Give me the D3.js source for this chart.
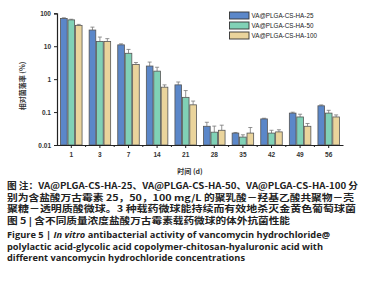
<!DOCTYPE html>
<html><head><meta charset="utf-8">
<script src="https://cdn.jsdelivr.net/npm/d3@7"></script>
<style>body{margin:0;background:#fff}svg{display:block}</style>
</head><body>
<script>
const categories = ["1","3","7","14","21","28","35","42","49","56"];
const seriesNames = ["VA@PLGA-CS-HA-25","VA@PLGA-CS-HA-50","VA@PLGA-CS-HA-100"];
const ha25 = [70, 31, 11, 2.5, 0.67, 0.037, 0.023, 0.062, 0.093, 0.155];
const ha50 = [63, 14, 6.1, 1.75, 0.28, 0.0245, 0.0174, 0.023, 0.071, 0.093];
const ha100 = [43, 14, 2.8, 0.57, 0.166, 0.028, 0.023, 0.025, 0.037, 0.071];
const err25 = [3, 7, 0.8, 0.8, 0.15, 0.012, 0.001, 0.003, 0.006, 0.01];
const err50 = [3, 5, 1.9, 0.55, 0.17, 0.013, 0.003, 0.005, 0.015, 0.02];
const err100 = [3, 3, 0.4, 0.1, 0.05, 0.012, 0.011, 0.004, 0.008, 0.011];
const yTicks = [0.01, 0.1, 1, 10, 100];
const colors = ["#5b87c9", "#80d1b6", "#ead49c"];

const W = 383, H = 300;
const svg = d3.select("body").append("svg").attr("width", W).attr("height", H);
const x = d3.scaleBand().domain(categories).range([57, 343]).paddingInner(0.22).paddingOuter(0.11);
const x1 = d3.scaleBand().domain(d3.range(3)).range([0, x.bandwidth()]).padding(0);
const y = d3.scaleLog().domain([0.01, 100]).range([145, 13.3]);
const series = [ha25, ha50, ha100];
const errs = [err25, err50, err100];

const g = svg.append("g");
series.forEach((vals, si) => {
  categories.forEach((c, ci) => {
    const bx = x(c) + x1(si);
    const bw = x1.bandwidth();
    const top = y(vals[ci]);
    const et = y(vals[ci] + errs[si][ci]);
    const cx = bx + bw / 2;
    g.append("line").attr("x1", cx).attr("x2", cx).attr("y1", top).attr("y2", et)
      .attr("stroke", "#777").attr("stroke-width", 0.8);
    g.append("line").attr("x1", cx - 2).attr("x2", cx + 2).attr("y1", et).attr("y2", et)
      .attr("stroke", "#777").attr("stroke-width", 0.8);
    g.append("rect").attr("x", bx + 0.4).attr("y", top).attr("width", bw - 0.8).attr("height", 145 - top)
      .attr("fill", colors[si]).attr("stroke", "#555").attr("stroke-width", 0.8);
  });
});

// axes
const yAxis = d3.axisLeft(y).tickValues(yTicks).tickFormat(d => String(d)).tickSize(3);
const ya = svg.append("g").attr("transform", "translate(57,0)").call(yAxis);
ya.select(".domain").attr("stroke", "#222").attr("stroke-width", 1.2);
ya.selectAll(".tick line").attr("stroke", "#222");
ya.selectAll("text").attr("font-family", "Liberation Sans, Arial, sans-serif").attr("font-size", 6.5)
  .attr("font-weight", "bold").attr("fill", "#333");

const xAxis = d3.axisBottom(x).tickSize(3).tickSizeOuter(0);
const xa = svg.append("g").attr("transform", "translate(0,145)").call(xAxis);
xa.select(".domain").attr("stroke", "#222").attr("stroke-width", 1.2);
xa.selectAll(".tick line").attr("stroke", "#222");
xa.selectAll("text").attr("font-family", "Liberation Sans, Arial, sans-serif").attr("font-size", 6.5)
  .attr("font-weight", "bold").attr("fill", "#333").attr("dy", "0.9em");
const bounds = categories.slice(1).map(c => x(c) - x.step() * x.paddingInner() / 2);
xa.selectAll(".mtick").data(bounds).enter().append("line")
  .attr("x1", d => d).attr("x2", d => d).attr("y1", 0).attr("y2", 2).attr("stroke", "#222");

// axis titles
svg.append("text").attr("transform", "translate(25,86) rotate(-90)").attr("text-anchor", "middle")
  .attr("font-family", "Noto Sans CJK SC, sans-serif").attr("font-size", 7).attr("font-weight", "bold")
  .attr("fill", "#333").text("相对菌落率 (%)");
svg.append("text").attr("x", 190).attr("y", 174).attr("text-anchor", "middle")
  .attr("font-family", "Noto Sans CJK SC, sans-serif").attr("font-size", 7).attr("font-weight", "bold")
  .attr("fill", "#333").text("时间 (d)");

// legend
const lg = svg.append("g");
seriesNames.forEach((n, i) => {
  const yy = 15.5 + i * 10;
  lg.append("rect").attr("x", 229.5).attr("y", yy - 3.5).attr("width", 19.5).attr("height", 7)
    .attr("fill", colors[i]).attr("stroke", "#333").attr("stroke-width", 0.9);
  lg.append("text").attr("x", 251.5).attr("y", yy + 2.3).attr("font-family", "Liberation Sans, Arial, sans-serif")
    .attr("font-size", 6.3).attr("fill", "#222").text(n);
});

// caption
const cap = [
  {t: "图  注：VA@PLGA-CS-HA-25、VA@PLGA-CS-HA-50、VA@PLGA-CS-HA-100 分", y: 188.5, w: 351},
  {t: "别为含盐酸万古霉素 25，50，100 mg/L 的聚乳酸－羟基乙酸共聚物－壳", y: 200.5, w: 347},
  {t: "聚糖－透明质酸微球。3 种载药微球能持续而有效地杀灭金黄色葡萄球菌", y: 212, w: 349},
  {t: "图 5  | 含不同质量浓度盐酸万古霉素载药微球的体外抗菌性能", y: 224, w: 283}
];
cap.forEach(c => {
  svg.append("text").attr("x", 7).attr("y", c.y).attr("font-family", "Noto Sans CJK SC, sans-serif")
    .attr("font-size", 8.8).attr("font-weight", "bold").attr("fill", "#222")
    .attr("textLength", c.w).attr("lengthAdjust", "spacingAndGlyphs").text(c.t);
});
const en = svg.append("text").attr("x", 7).attr("y", 238).attr("font-family", "Open Sans, sans-serif")
  .attr("font-size", 8.4).attr("font-weight", "bold").attr("fill", "#222")
  .attr("textLength", 323).attr("lengthAdjust", "spacingAndGlyphs");
en.append("tspan").text("Figure 5  |  ");
en.append("tspan").attr("font-style", "italic").text("In vitro");
en.append("tspan").text(" antibacterial activity of vancomycin hydrochloride@");
svg.append("text").attr("x", 7).attr("y", 249.5).attr("font-family", "Open Sans, sans-serif")
  .attr("font-size", 8.4).attr("font-weight", "bold").attr("fill", "#222")
  .attr("textLength", 316).attr("lengthAdjust", "spacingAndGlyphs")
  .text("polylactic acid-glycolic acid copolymer-chitosan-hyaluronic acid with");
svg.append("text").attr("x", 7).attr("y", 261).attr("font-family", "Open Sans, sans-serif")
  .attr("font-size", 8.4).attr("font-weight", "bold").attr("fill", "#222")
  .attr("textLength", 238).attr("lengthAdjust", "spacingAndGlyphs")
  .text("different vancomycin hydrochloride concentrations");
</script>
</body></html>
